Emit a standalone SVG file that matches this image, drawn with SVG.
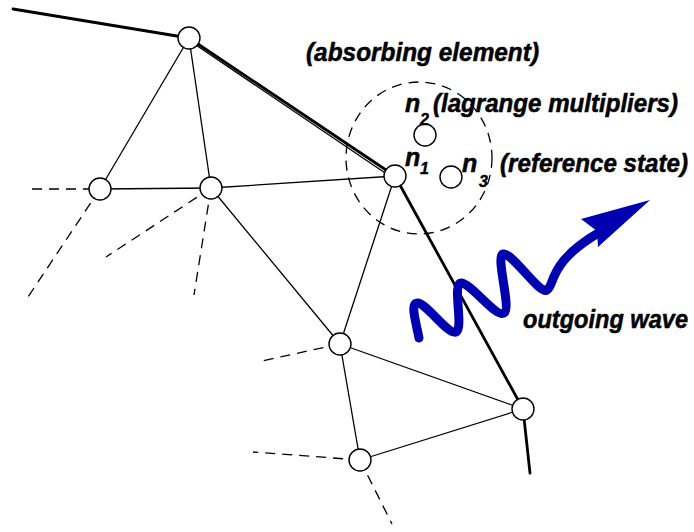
<svg xmlns="http://www.w3.org/2000/svg" width="694" height="532" viewBox="0 0 694 532">
  <style>
    .thin { stroke: #000; stroke-width: 1.3; fill: none; }
    .bound { stroke: #000; stroke-width: 2.8; fill: none; stroke-linecap: round; }
    .dash { stroke: #000; stroke-width: 1.3; fill: none; stroke-dasharray: 10 7; }
    .node { fill: #fff; stroke: #000; stroke-width: 1.4; }
    .lbl { font-family: "Liberation Sans", Arial, sans-serif; font-weight: bold; font-style: italic; font-size: 25px; fill: #000; stroke: #000; stroke-width: 0.5; }
    .sub { font-family: "Liberation Sans", Arial, sans-serif; font-weight: bold; font-style: italic; font-size: 16px; fill: #000; stroke: #000; stroke-width: 0.4; }
    .wave { stroke: #0000b0; stroke-width: 9; fill: none; stroke-linecap: round; stroke-linejoin: round; }
  </style>

  <!-- mesh edges, boundary and dashed continuations -->
  <g id="connectors">
    <!-- boundary of the computational domain -->
    <path class="bound" d="M13,9 L189,38"/>
    <path class="bound" d="M189,38 L395,176"/>
    <path class="thin" d="M190,41 L394,179"/>
    <path class="bound" d="M395,176 L523,409 L530,473"/>

    <!-- interior element edges -->
    <path class="thin" d="M189,38 L100,189"/>
    <path class="thin" d="M189,38 L211,188"/>
    <path class="thin" d="M100,189 L211,188"/>
    <path class="thin" d="M211,188 L395,176"/>
    <path class="thin" d="M211,188 L340,344"/>
    <path class="thin" d="M395,176 L340,344"/>
    <path class="thin" d="M340,344 L523,409"/>
    <path class="thin" d="M340,344 L360,460"/>
    <path class="thin" d="M360,460 L523,409"/>

    <!-- mesh continues beyond the drawn part -->
    <path class="dash" d="M32,189 L100,189"/>
    <path class="dash" d="M100,189 L28,297"/>
    <path class="dash" d="M211,188 L106,257"/>
    <path class="dash" d="M211,188 L194,295"/>
    <path class="dash" d="M340,344 L257,362"/>
    <path class="dash" d="M360,460 L253,452"/>
    <path class="dash" d="M360,460 L392,524"/>

    <!-- absorbing element region -->
    <ellipse class="dash" cx="419" cy="158" rx="73" ry="76"/>
  </g>

  <!-- mesh nodes -->
  <g id="node-a"><circle class="node" cx="189" cy="38" r="11"/></g>
  <g id="node-b"><circle class="node" cx="100" cy="189" r="11"/></g>
  <g id="node-c"><circle class="node" cx="211" cy="188" r="11"/></g>
  <g id="node-n1"><circle class="node" cx="395" cy="176" r="11"/></g>
  <g id="node-n2"><circle class="node" cx="425" cy="135" r="11"/></g>
  <g id="node-n3"><circle class="node" cx="451" cy="177" r="11"/></g>
  <g id="node-d"><circle class="node" cx="340" cy="344" r="11"/></g>
  <g id="node-e"><circle class="node" cx="523" cy="409" r="11"/></g>
  <g id="node-f"><circle class="node" cx="360" cy="460" r="11"/></g>

  <!-- labels -->
  <g id="labels">
    <text class="lbl" x="306" y="61" textLength="233" lengthAdjust="spacingAndGlyphs">(absorbing element)</text>
    <text class="lbl" x="405" y="112">n</text>
    <text class="sub" x="420" y="125">2</text>
    <text class="lbl" x="433" y="112" textLength="245" lengthAdjust="spacingAndGlyphs">(lagrange multipliers)</text>
    <text class="lbl" x="405" y="166">n</text>
    <text class="sub" x="420" y="174">1</text>
    <text class="lbl" x="462" y="172">n</text>
    <text class="sub" x="479" y="187">3</text>
    <text class="lbl" x="500" y="172" textLength="188" lengthAdjust="spacingAndGlyphs">(reference state)</text>
    <text class="lbl" x="523" y="328" textLength="165" lengthAdjust="spacingAndGlyphs">outgoing wave</text>
  </g>

  <!-- outgoing wave arrow -->
  <g id="wave">
    <path class="wave" d="M419,338 C415,318 410,303 418,303 C427,304 448,335 456,332 C464,329 452,283 461,283 C471,283 496,318 504,313 C512,308 494,253 504,254 C514,255 540,295 547,290 C555,285 548,262 600,232"/>
    <polygon fill="#0000b0" points="650,200 581,219 597,231 598,247"/>
  </g>
</svg>
